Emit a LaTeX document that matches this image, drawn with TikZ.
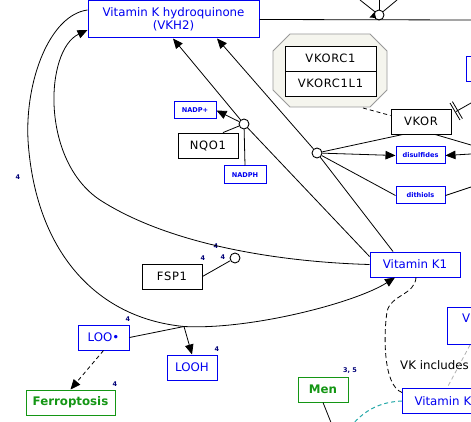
\documentclass[tikz,border=0pt]{standalone}
\usepackage{fontspec}
\setmainfont{DejaVu Sans}
\newfontfamily\genefont[LetterSpace=6]{DejaVu Sans}
\usetikzlibrary{arrows.meta,calc}
\definecolor{mblue}{RGB}{0,0,240}
\definecolor{mgreen}{RGB}{20,150,20}
\definecolor{mnavy}{RGB}{0,0,120}
\definecolor{cfill}{RGB}{245,245,238}
\definecolor{mteal}{RGB}{40,170,170}
\begin{document}
\begin{tikzpicture}[x=1pt,y=-1pt,
 met/.style={draw=mblue,line width=1pt,text=mblue,font=\fontsize{11.8}{13}\selectfont,inner sep=0,align=center},
 small/.style={draw=mblue,line width=1pt,text=mblue,font=\bfseries\fontsize{6.6}{8}\selectfont,inner sep=0},
 gene/.style={draw=black,line width=0.9pt,font=\genefont\fontsize{11.5}{13}\selectfont,inner sep=0},
 pheno/.style={draw=mgreen,line width=1pt,text=mgreen,font=\bfseries\fontsize{11.8}{13}\selectfont,inner sep=0},
 ref/.style={text=mnavy,font=\bfseries\fontsize{6.5}{7}\selectfont,inner sep=0},
 rxn/.style={circle,draw,line width=0.9pt,fill=white,minimum size=10pt,inner sep=0},
 edge/.style={line width=0.8pt},
 arr/.style={edge,-{Triangle[length=10pt,width=8.5pt]}},
]
\useasboundingbox (0,0) rectangle (471,422);
\clip (0,0) rectangle (471,422);
\fill[white] (0,0) rectangle (471,422);

% complex
\draw[draw=gray!80,fill=cfill,line width=0.9pt] (290,34) -- (370,34) -- (387,51) -- (387,90) -- (370,107) -- (290,107) -- (273,90) -- (273,51) -- cycle;
\coordinate (cx) at (363,108);

% nodes
\node[met,minimum width=171pt,minimum height=37pt] (vkh2) at (173.5,19.5) {Vitamin K hydroquinone\\(VKH2)};
\node[gene,fill=white,minimum width=91pt,minimum height=25pt] (vkorc1) at (330.5,58.5) {VKORC1};
\node[gene,fill=white,minimum width=91pt,minimum height=25pt] (vkorc1l1) at (330.5,83.5) {VKORC1L1};
\node[met,minimum width=20pt,minimum height=25pt,anchor=north west] (rtop) at (466,56) {};
\node[gene,minimum width=60pt,minimum height=25pt] (vkor) at (421,121.5) {VKOR};
\node[gene,minimum width=60pt,minimum height=25pt] (nqo1) at (208,145.5) {NQO1};
\node[small,minimum width=42pt,minimum height=17pt] (nadpp) at (195,110.5) {NADP+};
\node[small,minimum width=42pt,minimum height=18pt] (nadph) at (245,175) {NADPH};
\node[small,minimum width=49pt,minimum height=17pt] (disulf) at (420.5,155.5) {disulfides};
\node[small,minimum width=49pt,minimum height=17pt] (dithiols) at (420.5,195.5) {dithiols};
\node[met,minimum width=90pt,minimum height=25pt] (vk1) at (415,264.5) {Vitamin K1};
\node[gene,minimum width=60pt,minimum height=25pt] (fsp1) at (172,276.5) {FSP1};
\node[met,minimum width=51pt,minimum height=25pt] (loo) at (103.5,337.5) {LOO•};
\node[met,minimum width=50pt,minimum height=25pt] (looh) at (192,367.5) {LOOH};
\node[pheno,minimum width=89pt,minimum height=25pt] (ferro) at (70.5,402.5) {Ferroptosis};
\node[pheno,minimum width=50pt,minimum height=25pt] (men) at (323,389.5) {Men};
\node[met,anchor=north west,minimum height=25pt,text width=68pt,align=left,inner xsep=12pt] (vkb) at (402,388) {Vitamin K};
\node[met,anchor=north west,minimum width=40pt,minimum height=37pt] (vbox) at (447,307) {};
\node[text=mblue,font=\fontsize{11.8}{13}\selectfont,anchor=west,inner sep=0] (vtxt) at (462,318) {V};
\node[font=\fontsize{11.8}{13}\selectfont,anchor=west,inner sep=0] (vkinc) at (400,365) {VK includes};

% reference labels
\node[ref] (r1) at (18,177) {4};
\node[ref] (r2) at (216,246) {4};
\node[ref] (r3) at (203,258) {4};
\node[ref] (r4) at (223,257) {4};
\node[ref] (r5) at (128,319) {4};
\node[ref] (r6) at (217,349) {4};
\node[ref] (r7) at (115,384) {4};
\node[ref] (r8) at (350,371) {3, 5};

% reaction circles
\node[rxn] (c1) at (379,15) {};
\node[rxn] (c2) at (244,124) {};
\node[rxn] (c3) at (317,153) {};
\node[rxn] (c4) at (235,258) {};

% free ends
\coordinate (e1) at (471,20);
\coordinate (t1) at (360,0);
\coordinate (t2) at (379,0);
\coordinate (t3) at (397,0);
\coordinate (e2) at (471,145);
\coordinate (e3) at (471,154);
\coordinate (e4) at (471,187);
\coordinate (e5) at (471,103);
\coordinate (bar) at (456,111.5);
\coordinate (j) at (184,326.5);
\coordinate (e6) at (352,425);
\coordinate (e7) at (332,425);

% top
\draw[edge] (vkh2.east) -- (e1);
\draw[edge] (c1) -- (t1);
\draw[edge] (c1) -- (t2);
\draw[edge] (c1) -- (t3);
\fill (369.5,17.5) -- (374.5,12) -- (376,18) -- cycle;

% conversions Vitamin K1 -> VKH2
\draw[arr] ([yshift=-5pt]vk1.north west) -- (c2) -- ([xshift=-0.5pt]vkh2.south);
\draw[arr] ([xshift=-22pt]vk1.north) -- (c3) -- ([xshift=43.5pt]vkh2.south);

% VKOR reaction
\draw[edge] (c3) -- ([xshift=-18pt]vkor.south);
\draw[arr] (c3) -- (disulf.west);
\draw[edge] (c3) -- (dithiols.west);
\draw[edge] ([xshift=14pt]vkor.south) -- (e2);
\draw[arr] (e3) -- (disulf.east);
\draw[edge] (dithiols.east) -- (e4);
\draw[edge] (e5) -- (bar);
\draw[edge] (450,103) -- (460,120);
\draw[edge] (452.4,101.6) -- (462.4,118.6);
\draw[edge,dashed,dash pattern=on 4pt off 3pt] (cx) -- ([yshift=6pt]vkor.west);

% NQO1 reaction
\draw[edge] ([xshift=15pt]nqo1.north) -- (c2);
\draw[arr] (c2) -- (nadpp.east);
\draw[edge] (nadph.north) -- (c2);

% FSP1 reaction
\draw[edge] (fsp1.east) -- (c4);
\draw[arr] (vk1.west) .. controls (280,262) and (170,245) .. (100,200)
  .. controls (40,160) and (45,50) .. ([yshift=-10.5pt]vkh2.west);

% lipid peroxide curve
\draw[edge] ([yshift=9.5pt]vkh2.west) .. controls (50,15) and (25,80) .. (28,140)
  .. controls (35,250) and (95,318) .. (j);
\draw[arr] (j) .. controls (250,330) and (355,303) .. ([xshift=-20pt]vk1.south);
\draw[edge] (loo.east) -- (j);
\draw[arr] (j) -- (looh.north);
\draw[arr,dashed,dash pattern=on 4pt off 3pt] (loo.south) -- (ferro.north);

% lower right
\draw[edge,dashed,dash pattern=on 5pt off 3pt] ([xshift=1pt]vk1.south) .. controls (415,295) and (390,295) .. (387,312)
  .. controls (384,330) and (382,385) .. ([yshift=8.5pt]vkb.west);
\draw[mteal,line width=1pt,dashed,dash pattern=on 4pt off 3pt] (vkb.west) .. controls (380,402) and (365,410) .. (e6);
\draw[gray!60,line width=0.8pt,dashed,dash pattern=on 4pt off 3pt] ([xshift=23pt]vbox.south west) -- ([xshift=45pt]vkb.north west);
\draw[edge] (men.south) -- (e7);
\end{tikzpicture}
\end{document}
